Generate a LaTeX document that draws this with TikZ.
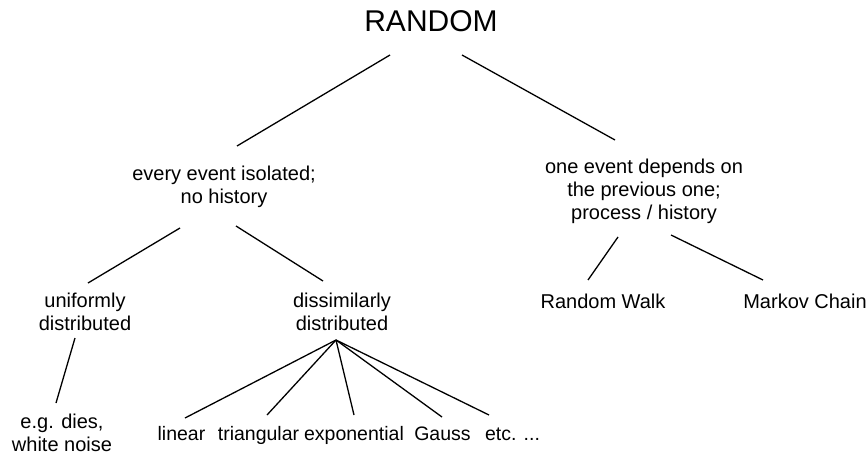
\documentclass[tikz,border=0pt]{standalone}
\usepackage{fontspec}
\setmainfont{Liberation Sans}
\begin{document}
\begin{tikzpicture}[x=1pt,y=-1pt,
  lbl/.style={inner sep=0pt,align=center,font=\fontsize{20}{23}\selectfont},
  one/.style={lbl,anchor=base},
  leaf/.style={one,font=\fontsize{19.5}{23}\selectfont},
  ln/.style={line width=1.3pt,black}]
\useasboundingbox (0,0) rectangle (867,458);
\node[inner sep=0pt,anchor=base,font=\fontsize{30}{34}\selectfont] (R) at (431,31) {RANDOM};
\node[lbl] (A) at (224,187) {every event isolated;\\no history};
\node[lbl] (B) at (644,191) {one event depends on\\the previous one;\\process / history};
\node[lbl] (C) at (85,311.5) {uniformly\\distributed};
\node[lbl] (D) at (342,311.5) {dissimilarly\\distributed};
\node[one] (E) at (603,308) {Random Walk};
\node[one] (F) at (805,308) {Markov Chain};
\node[lbl] (G) at (62,433) {e.g. dies,\\white noise};
\node[leaf] (H) at (181.5,440) {linear};
\node[leaf] (I) at (258.5,440) {triangular};
\node[leaf] (J) at (354,440) {exponential};
\node[leaf] (K) at (442.5,440) {Gauss};
\node[leaf] (L) at (512.5,440) {etc. ...};
\draw[ln] ([shift={(-41,24)}]R.base) -- ([shift={(13,-41)}]A.center);
\draw[ln] ([shift={(31,24)}]R.base) -- ([shift={(-29,-51)}]B.center);
\draw[ln] ([shift={(-44,41)}]A.center) -- ([shift={(3,-28.5)}]C.center);
\draw[ln] ([shift={(12,39)}]A.center) -- ([shift={(-19,-30.5)}]D.center);
\draw[ln] ([shift={(-26,46)}]B.center) -- ([shift={(-15,-28)}]E.base);
\draw[ln] ([shift={(27,44)}]B.center) -- ([shift={(-42,-28)}]F.base);
\draw[ln] ([shift={(-10,26.5)}]C.center) -- ([shift={(-6,-30)}]G.center);
\coordinate (apex) at ([shift={(-6,28.5)}]D.center);
\draw[ln] (apex) -- ([shift={(3.5,-22)}]H.base);
\draw[ln] (apex) -- ([shift={(8.5,-25)}]I.base);
\draw[ln] (apex) -- ([shift={(0,-25)}]J.base);
\draw[ln] (apex) -- ([shift={(-0.5,-23)}]K.base);
\draw[ln] (apex) -- ([shift={(-23.5,-25)}]L.base);
\end{tikzpicture}
\end{document}
